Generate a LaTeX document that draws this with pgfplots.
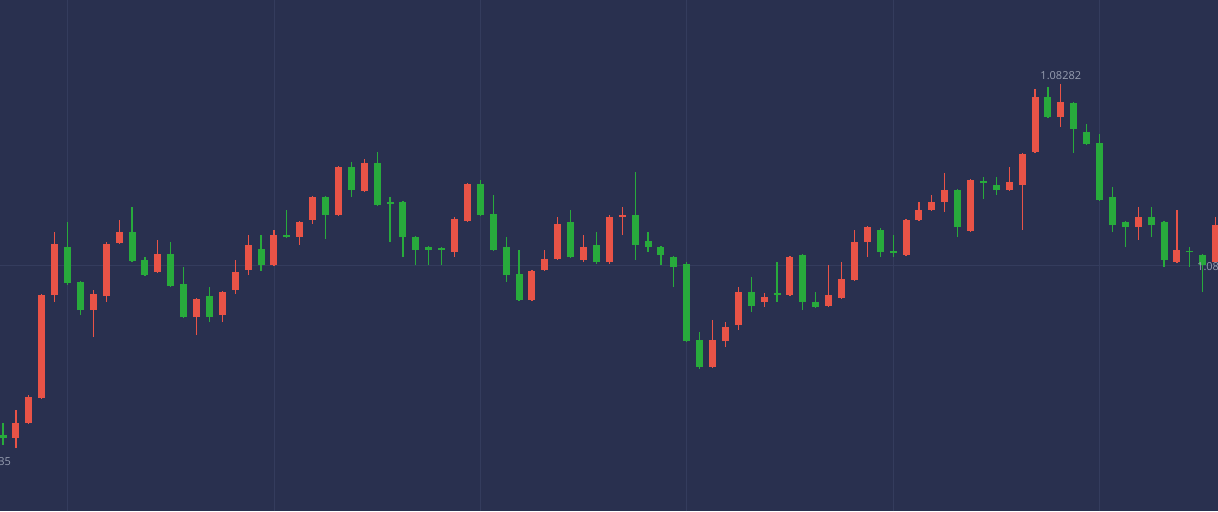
\documentclass[border=0pt]{standalone}
\usepackage{pgfplots}
\pgfplotsset{compat=1.18}
\usepackage{pgfplotstable}
\usepackage{fontspec}
\setmainfont{Open Sans}

\definecolor{bgnavy}{RGB}{41,48,79}
\definecolor{gridnavy}{RGB}{52,60,93}
\definecolor{upred}{RGB}{232,83,71}
\definecolor{downgreen}{RGB}{40,170,60}
\definecolor{lbl}{RGB}{150,157,176}

% one row per candle: index, open, high, low, close
\pgfplotstableread{
i O H L C
0 1.07931 1.07943 1.07921 1.07928
1 1.07928 1.07956 1.07918 1.07943
2 1.07943 1.07971 1.07942 1.07969
3 1.07968 1.08072 1.07967 1.08071
4 1.08071 1.08134 1.08064 1.08122
5 1.08119 1.08144 1.08081 1.08083
6 1.08084 1.08085 1.08051 1.08056
7 1.08056 1.08076 1.08029 1.08072
8 1.08070 1.08124 1.08064 1.08122
9 1.08123 1.08146 1.08122 1.08134
10 1.08134 1.08159 1.08104 1.08105
11 1.08106 1.08109 1.08090 1.08091
12 1.08094 1.08126 1.08093 1.08112
13 1.08112 1.08124 1.08079 1.08080
14 1.08082 1.08099 1.08048 1.08049
15 1.08049 1.08068 1.08031 1.08067
16 1.08070 1.08079 1.08044 1.08049
17 1.08051 1.08075 1.08044 1.08074
18 1.08076 1.08106 1.08072 1.08094
19 1.08096 1.08131 1.08091 1.08121
20 1.08117 1.08131 1.08095 1.08101
21 1.08101 1.08136 1.08100 1.08131
22 1.08131 1.08156 1.08128 1.08129
23 1.08129 1.08145 1.08121 1.08144
24 1.08146 1.08170 1.08142 1.08169
25 1.08169 1.08170 1.08127 1.08151
26 1.08151 1.08200 1.08150 1.08199
27 1.08199 1.08204 1.08169 1.08176
28 1.08175 1.08207 1.08174 1.08203
29 1.08203 1.08214 1.08160 1.08161
30 1.08164 1.08169 1.08124 1.08162
31 1.08164 1.08165 1.08109 1.08129
32 1.08129 1.08130 1.08101 1.08116
33 1.08119 1.08120 1.08101 1.08116
34 1.08118 1.08119 1.08101 1.08116
35 1.08114 1.08149 1.08109 1.08147
36 1.08145 1.08183 1.08144 1.08182
37 1.08182 1.08186 1.08150 1.08151
38 1.08152 1.08171 1.08115 1.08116
39 1.08119 1.08129 1.08084 1.08091
40 1.08092 1.08116 1.08065 1.08066
41 1.08066 1.08096 1.08065 1.08095
42 1.08096 1.08116 1.08095 1.08107
43 1.08107 1.08149 1.08106 1.08142
44 1.08144 1.08156 1.08108 1.08109
45 1.08106 1.08131 1.08104 1.08119
46 1.08121 1.08134 1.08102 1.08104
47 1.08104 1.08151 1.08102 1.08149
48 1.08149 1.08159 1.08131 1.08151
49 1.08151 1.08194 1.08106 1.08121
50 1.08125 1.08134 1.08114 1.08119
51 1.08119 1.08120 1.08101 1.08111
52 1.08109 1.08110 1.08079 1.08099
53 1.08102 1.08104 1.08024 1.08025
54 1.08026 1.08034 1.07997 1.07999
55 1.07999 1.08046 1.07998 1.08026
56 1.08025 1.08044 1.08019 1.08039
57 1.08041 1.08079 1.08036 1.08074
58 1.08074 1.08089 1.08054 1.08060
59 1.08064 1.08073 1.08059 1.08069
60 1.08073 1.08104 1.08064 1.08071
61 1.08071 1.08110 1.08070 1.08109
62 1.08111 1.08112 1.08056 1.08064
63 1.08064 1.08074 1.08058 1.08059
64 1.08060 1.08101 1.08059 1.08071
65 1.08068 1.08104 1.08067 1.08087
66 1.08086 1.08136 1.08085 1.08124
67 1.08124 1.08140 1.08109 1.08139
68 1.08136 1.08138 1.08109 1.08114
69 1.08115 1.08131 1.08109 1.08113
70 1.08111 1.08147 1.08110 1.08146
71 1.08146 1.08164 1.08145 1.08156
72 1.08156 1.08171 1.08155 1.08164
73 1.08164 1.08193 1.08154 1.08176
74 1.08176 1.08177 1.08129 1.08139
75 1.08135 1.08187 1.08134 1.08186
76 1.08185 1.08189 1.08167 1.08183
77 1.08181 1.08189 1.08171 1.08176
78 1.08176 1.08199 1.08175 1.08184
79 1.08181 1.08213 1.08136 1.08212
80 1.08214 1.08277 1.08213 1.08269
81 1.08269 1.08279 1.08248 1.08249
82 1.08249 1.08282 1.08239 1.08264
83 1.08263 1.08264 1.08213 1.08237
84 1.08234 1.08242 1.08221 1.08222
85 1.08223 1.08232 1.08165 1.08166
86 1.08169 1.08179 1.08134 1.08141
87 1.08144 1.08145 1.08119 1.08139
88 1.08139 1.08159 1.08126 1.08149
89 1.08149 1.08159 1.08129 1.08141
90 1.08144 1.08145 1.08099 1.08106
91 1.08104 1.08156 1.08103 1.08116
92 1.08115 1.08119 1.08099 1.08114
93 1.08111 1.08112 1.08074 1.08101
94 1.08104 1.08149 1.08103 1.08141
}\candles

\begin{document}
\begin{tikzpicture}
\begin{axis}[
    name=ax,
    scale only axis,
    width=1218pt, height=511pt,
    xmin=-0.233, xmax=94.186,
    ymin=1.07855, ymax=1.08366,
    axis background/.style={fill=bgnavy},
    axis line style={draw=none},
    xtick={5,21,37,53,69,85},
    ytick={1.08101},
    xticklabels={}, yticklabels={},
    major tick length=0pt,
    grid=major,
    major grid style={gridnavy, line width=0.8pt},
]
\pgfplotstablegetrowsof{\candles}
\pgfmathtruncatemacro\N{\pgfplotsretval-1}
\pgfplotsforeachungrouped \k in {0,...,\N}{%
    \pgfplotstablegetelem{\k}{O}\of\candles \let\cO\pgfplotsretval
    \pgfplotstablegetelem{\k}{H}\of\candles \let\cH\pgfplotsretval
    \pgfplotstablegetelem{\k}{L}\of\candles \let\cL\pgfplotsretval
    \pgfplotstablegetelem{\k}{C}\of\candles \let\cC\pgfplotsretval
    % red = close above open, green = close below open
    \ifdim\cC pt>\cO pt \def\cc{upred}\else\def\cc{downgreen}\fi
    \edef\doit{%
        \noexpand\addplot[\cc, line width=1.2pt, forget plot]
            coordinates {(\k,\cL) (\k,\cH)};
        \noexpand\addplot[\cc, line width=7pt, forget plot]
            coordinates {(\k,\cO) (\k,\cC)};
    }\doit
}
\node[lbl, font=\fontsize{11}{13}\selectfont] at (axis cs:82,1.08290) {1.08282};
\node[lbl, font=\fontsize{11}{13}\selectfont] at (axis cs:-0.97,1.07904) {1.07935};
\node[lbl, font=\fontsize{11}{13}\selectfont] at (axis cs:94.15,1.08099) {1.08099};
\end{axis}
\pgfresetboundingbox
\useasboundingbox (ax.south west) rectangle (ax.north east);
\end{tikzpicture}
\end{document}
